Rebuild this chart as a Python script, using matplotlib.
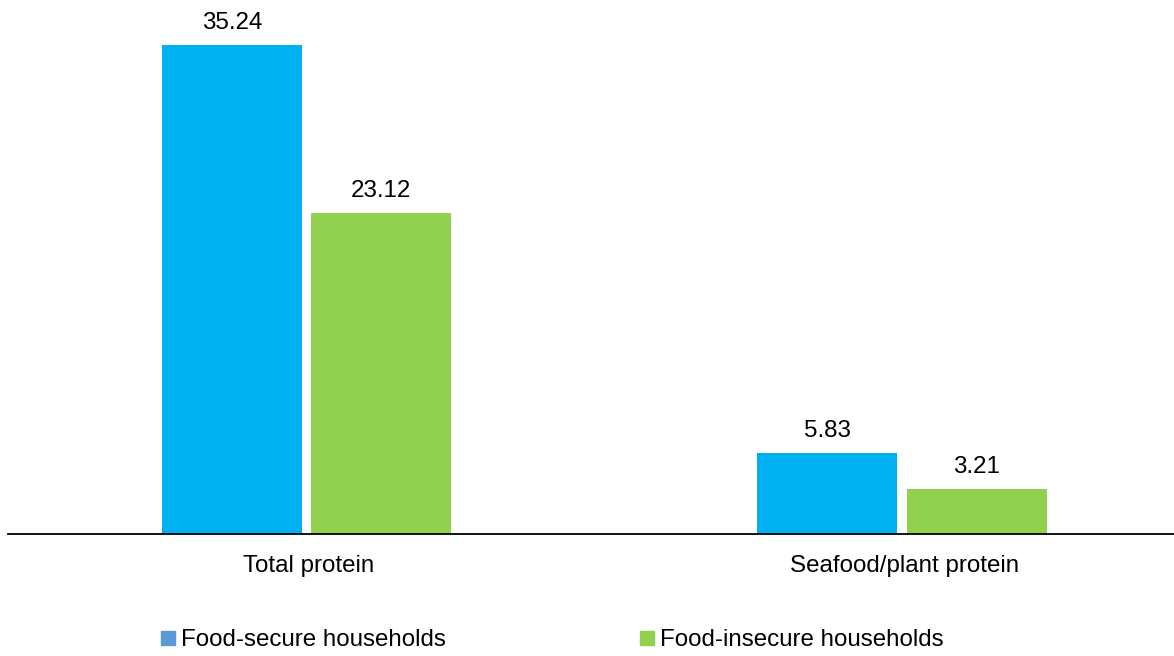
import matplotlib.pyplot as plt
from matplotlib.lines import Line2D
import numpy as np

plt.rcParams['font.family'] = ['Liberation Sans', 'DejaVu Sans']

categories = ["Total protein", "Seafood/plant protein"]
secure = [35.24, 5.83]
insecure = [23.12, 3.21]
series_names = ["Food-secure households", "Food-insecure households"]

blue = "#00B0F0"
green = "#92D050"
legend_blue = "#5B9BD5"

fig = plt.figure(figsize=(11.74, 6.56), dpi=100)
ax = fig.add_axes([8 / 1174, 122 / 656, 1166 / 1174, 534 / 656])

x = np.arange(len(categories))
w = 0.235
off = 0.1265
b1 = ax.bar(x - off + 0.002, secure, w, color=blue)
b2 = ax.bar(x + off, insecure, w, color=green)
ax.bar_label(b1, labels=[f"{v:.2f}" for v in secure], padding=8, fontsize=17.4)
ax.bar_label(b2, labels=[f"{v:.2f}" for v in insecure], padding=8, fontsize=17.4)

ax.set_xlim(-0.5004, 1.4576)
ax.set_ylim(0, 38.48)
ax.set_yticks([])
ax.set_xticks(x + 0.005)
ax.set_xticklabels(categories, fontsize=17.4)
ax.tick_params(axis='x', length=0, pad=15)
for s in ["top", "right", "left"]:
    ax.spines[s].set_visible(False)
ax.spines["bottom"].set_linewidth(1.3)
ax.spines["bottom"].set_color("black")

handles = [Line2D([], [], marker='s', linestyle='none', markersize=9.5, color=legend_blue),
           Line2D([], [], marker='s', linestyle='none', markersize=9.5, color=green)]
fig.legend(handles, series_names, loc='center left', bbox_to_anchor=(161 / 1174, 16 / 656),
           ncol=2, frameon=False, fontsize=17.4, handlelength=0.6, handletextpad=0.22,
           columnspacing=8.05, borderpad=0, borderaxespad=0)

fig.savefig("out.png", dpi=100)
